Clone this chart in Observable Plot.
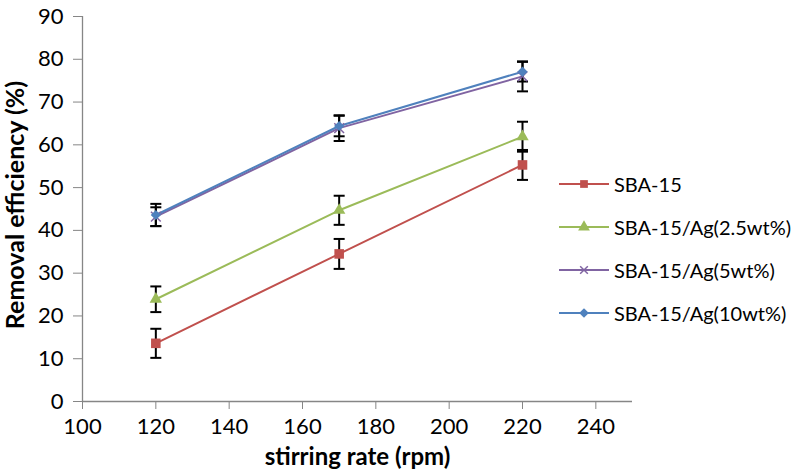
<!DOCTYPE html>
<html>
<head>
<meta charset="utf-8">
<script src="https://cdn.jsdelivr.net/npm/d3@7"></script>
<script src="https://cdn.jsdelivr.net/npm/@observablehq/plot@0.6"></script>
<style>
  html, body { margin: 0; padding: 0; background: #fff; }
  #wrap { position: relative; width: 799px; height: 475px; font-family: Lato, "Open Sans", sans-serif; }
  #legend { position: absolute; left: 559px; top: 162px; width: 240px; }
  .row { display: flex; align-items: center; height: 43px; font-size: 20px; color: #000; white-space: nowrap; }
  .row svg { margin-right: 3px; flex: none; }
</style>
</head>
<body>
<div id="wrap"></div>
<script>
// ---- data ----
const rpm = [120, 170, 220];
const seriesNames = ["SBA-15", "SBA-15/Ag(2.5wt%)", "SBA-15/Ag(5wt%)", "SBA-15/Ag(10wt%)"];
const sba15 = [13.6, 34.5, 55.3];
const sba15Err = [3.4, 3.5, 3.5];
const ag25 = [23.9, 44.7, 61.9];
const ag25Err = [3.0, 3.4, 3.5];
const ag5 = [43.2, 63.9, 76.0];
const ag5Err = [2.2, 3.0, 3.5];
const ag10 = [43.6, 64.4, 77.1];
const ag10Err = [2.6, 2.4, 2.3];
const xTicks = [100, 120, 140, 160, 180, 200, 220, 240];
const yTicks = [0, 10, 20, 30, 40, 50, 60, 70, 80, 90];

const colors = ["#C0504D", "#9BBB59", "#8064A2", "#4F81BD"];
const symbols = ["square", "triangle", "times", "diamond2"];
const symbolR = [5.4, 4.6, 4.5, 4.6];
const values = [sba15, ag25, ag5, ag10];
const errs = [sba15Err, ag25Err, ag5Err, ag10Err];

const data = [];
seriesNames.forEach((s, i) => rpm.forEach((x, j) => data.push({series: s, x, y: values[i][j], e: errs[i][j]})));

const capSymbol = {
  draw(context, size) {
    const w = 5.5;
    context.moveTo(-w, 0);
    context.lineTo(w, 0);
  }
};

const axisColor = "#868686";

const marks = [
  Plot.ruleY([0], {stroke: axisColor, strokeWidth: 1.3}),
  Plot.ruleX([100], {stroke: axisColor, strokeWidth: 1.3}),
  Plot.axisX({ticks: xTicks, tickSize: 8, tickPadding: 9, stroke: axisColor, fill: "#000", label: null, tickFormat: d => String(d)}),
  Plot.axisY({ticks: yTicks, tickSize: 9, tickPadding: 10, stroke: axisColor, fill: "#000", label: null, tickFormat: d => String(d)}),
  Plot.line(data, {x: "x", y: "y", z: "series", stroke: "series", strokeWidth: 2})
];
// error bars
marks.push(Plot.ruleX(data, {x: "x", y1: d => d.y - d.e, y2: d => d.y + d.e, stroke: "#000", strokeWidth: 2}));
marks.push(Plot.dot(data, {x: "x", y: d => d.y - d.e, symbol: capSymbol, stroke: "#000", strokeWidth: 2, r: 3}));
marks.push(Plot.dot(data, {x: "x", y: d => d.y + d.e, symbol: capSymbol, stroke: "#000", strokeWidth: 2, r: 3}));
// markers
seriesNames.forEach((s, i) => {
  const sub = data.filter(d => d.series === s);
  if (symbols[i] === "times") {
    marks.push(Plot.dot(sub, {x: "x", y: "y", symbol: "times", stroke: colors[i], strokeWidth: 1.5, r: symbolR[i]}));
  } else {
    marks.push(Plot.dot(sub, {x: "x", y: "y", symbol: symbols[i], fill: colors[i], stroke: "none", r: symbolR[i]}));
  }
});
marks.push(Plot.text(["stirring rate (rpm)"], {frameAnchor: "bottom", dy: 63, fontWeight: "bold", fontSize: 24, fill: "#000"}));
marks.push(Plot.text(["Removal efficiency (%)"], {frameAnchor: "left", textAnchor: "middle", dx: -67, dy: -4, rotate: -90, fontWeight: "bold", fontSize: 25, fill: "#000"}));

const chart = Plot.plot({
  width: 799,
  height: 475,
  marginLeft: 82,
  marginRight: 167,
  marginTop: 16,
  marginBottom: 74,
  style: {fontFamily: "Lato, 'Open Sans', sans-serif", fontSize: "22px", background: "#fff", overflow: "visible"},
  x: {domain: [100, 250], axis: null},
  y: {domain: [0, 90], axis: null},
  color: {domain: seriesNames, range: colors},
  marks
});
const wrap = document.getElementById("wrap");
wrap.appendChild(chart);

// legend
const legend = document.createElement("div");
legend.id = "legend";
seriesNames.forEach((s, i) => {
  const row = document.createElement("div");
  row.className = "row";
  const sv = d3.create("svg").attr("width", 52).attr("height", 14);
  sv.append("line").attr("x1", 0).attr("x2", 50).attr("y1", 7).attr("y2", 7).attr("stroke", colors[i]).attr("stroke-width", 2);
  const symMap = {square: d3.symbolSquare, triangle: d3.symbolTriangle, times: d3.symbolTimes, diamond2: d3.symbolDiamond2};
  const p = sv.append("path").attr("transform", "translate(25,7)").attr("d", d3.symbol(symMap[symbols[i]], symbols[i] === "times" ? 40 : 60)());
  if (symbols[i] === "times") p.attr("fill", "none").attr("stroke", colors[i]).attr("stroke-width", 1.5);
  else p.attr("fill", colors[i]);
  row.appendChild(sv.node());
  const t = document.createElement("span");
  t.textContent = s;
  row.appendChild(t);
  legend.appendChild(row);
});
wrap.appendChild(legend);
</script>
</body>
</html>
